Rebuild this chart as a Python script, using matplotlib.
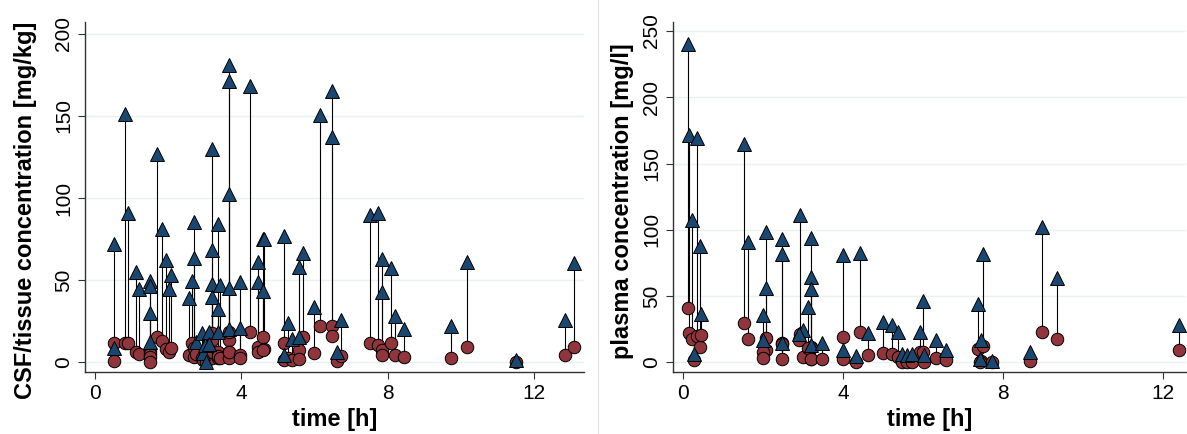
import matplotlib
matplotlib.use("Agg")
import matplotlib.pyplot as plt
from matplotlib.lines import Line2D

plt.rcParams['font.family'] = ['Liberation Sans', 'DejaVu Sans']

# CSF/tissue samples: time [h], triangle value, circle value [mg/kg]
tissue_t = [0.52, 0.52, 0.83, 0.91, 1.12, 1.19, 1.50, 1.50, 1.50, 1.50,
            1.70, 1.83, 1.95, 2.01, 2.07, 2.57, 2.64, 2.71, 2.71, 2.76,
            2.93, 2.95, 3.00, 3.02, 3.12, 3.12, 3.20, 3.20, 3.20, 3.20,
            3.35, 3.35, 3.35, 3.41, 3.67, 3.67, 3.67, 3.67, 3.66, 3.96,
            3.96, 4.24, 4.46, 4.46, 4.58, 4.62, 4.58, 5.16, 5.26, 5.16,
            5.38, 5.57, 5.57, 5.69, 5.98, 6.16, 6.48, 6.48, 6.60, 6.72,
            7.50, 7.72, 7.85, 7.85, 8.08, 8.20, 8.43, 9.73, 10.17, 11.50,
            12.85, 13.10]
tissue_upper = [72, 9, 151, 91, 55, 44.5, 49.5, 46.7, 30, 12.5,
                127, 81, 62, 44.5, 53, 39, 49.5, 85.6, 63.5, 12.5,
                17.7, 5.5, 10.5, 0.4, 18.3, 11, 129.7, 68.4, 47.5, 39.6,
                84.2, 32.3, 18.6, 47, 181, 171.3, 102.5, 45, 20, 49,
                20.7, 168, 61, 49, 75, 75, 43.4, 77, 23.7, 4.6,
                14, 58, 15.6, 66.8, 33.5, 150.6, 165.4, 137.4, 6, 25.8,
                90, 90.7, 62.7, 43, 57.6, 28.4, 20, 22.3, 61.3, 1.4,
                25.8, 60.3]
tissue_lower = [12, 1, 12, 11.5, 6.5, 5, 6.9, 4.9, 3, 0.5,
                15.6, 13, 8, 6.5, 9, 4.4, 11.5, 9, 3.4, 5,
                2.4, 1.2, 4.4, 0.3, 13.6, 6.5, 2.4, 18, 6.5, 13.6,
                6.5, 2.4, 4, 2.4, 13.6, 6, 18.7, 2.4, 6.5, 4.4,
                2.4, 18.7, 9.5, 6.5, 15.6, 8, 7.3, 11.5, 2.6, 1.6,
                1.2, 7.5, 2, 15.6, 5.5, 22, 22, 16, 1, 3.8,
                11.5, 10.5, 7.5, 4.4, 12, 4.4, 3, 2.4, 9.5, 0,
                4.4, 9.1]

# Plasma samples: time [h], triangle value, circle value [mg/l]
plasma_t = [0.11, 0.15, 0.23, 0.35, 0.42, 0.44, 0.26, 1.52, 1.61, 2.08,
            2.08, 2.00, 2.00, 2.47, 2.47, 2.47, 2.92, 3.00, 2.90, 3.20,
            3.20, 3.20, 3.12, 3.20, 3.46, 4.00, 4.00, 4.32, 4.43, 4.63,
            5.00, 5.22, 5.36, 5.46, 5.60, 5.72, 5.93, 6.00, 6.01, 6.33,
            6.58, 7.36, 7.50, 7.45, 7.42, 7.71, 8.68, 8.97, 9.35, 12.40]
plasma_upper = [240, 171.5, 107.4, 169, 87.7, 36.4, 6.3, 164.7, 90.5, 98.5,
                56.3, 35.7, 16.8, 93, 81.7, 14.3, 111.1, 24.4, 21.4, 93.5,
                64, 55, 41.5, 13, 14.3, 81, 9.3, 4.5, 82.7, 21.9,
                30.4, 28, 23, 6.3, 5.5, 6.5, 23, 46, 5.5, 16.8,
                9.3, 43.7, 81.7, 16.8, 2.5, 1.0, 7.8, 102.3, 63.8, 28.1]
plasma_lower = [40.7, 21.9, 17.3, 19.8, 11.8, 20.5, 1.7, 29.9, 17.3, 18,
                9.3, 8, 3, 14.3, 13.5, 2.3, 21.4, 3.8, 17, 11.8,
                10.6, 2.3, 10.6, 2.3, 2.3, 19.3, 2.3, 0.5, 22.6, 5.5,
                6.8, 6.0, 4.2, 0.5, 0.5, 0.5, 8, 8, 0.5, 3,
                1.5, 9.8, 12, 1, 0.5, 0.3, 1.3, 23.1, 17.3, 9.3]

NAVY = '#1a476f'
MAROON = '#90353b'
GRID = '#eaf1f3'


def draw_panel(ax, t, upper, lower, ylabel, yticks, xticks, xlim, ylim,
               ylabel_pos):
    ax.vlines(t, lower, upper, colors='black', linewidth=0.8, zorder=2)
    ax.plot(t, lower, linestyle='none', marker='o', markersize=9,
            markerfacecolor=MAROON, markeredgecolor='black',
            markeredgewidth=0.7, zorder=3)
    ax.plot(t, upper, linestyle='none', marker='^', markersize=10,
            markerfacecolor=NAVY, markeredgecolor='black',
            markeredgewidth=0.7, zorder=4)
    ax.set_xlim(*xlim)
    ax.set_ylim(*ylim)
    ax.set_xticks(xticks)
    ax.set_yticks(yticks)
    for y in yticks:
        ax.axhline(y, color=GRID, linewidth=1.0, zorder=1)
    for side in ('top', 'right'):
        ax.spines[side].set_visible(False)
    for side in ('left', 'bottom'):
        ax.spines[side].set_color('#333333')
        ax.spines[side].set_linewidth(1.0)
    ax.tick_params(axis='both', direction='out', length=5, width=0.8,
                   colors='#333333', labelcolor='black', labelsize=15)
    ax.tick_params(axis='y', labelrotation=90)
    for lab in ax.get_yticklabels():
        lab.set_verticalalignment('center')
    ax.set_xlabel('time [h]', fontsize=17, fontweight='bold', labelpad=4)
    ax.set_ylabel(ylabel, fontsize=17, fontweight='bold')
    ax.yaxis.set_label_coords(*ylabel_pos)
    ax.yaxis.label.set_verticalalignment('center')


fig = plt.figure(figsize=(11.87, 4.34), dpi=100)
W, H = 1187.0, 434.0

ax1 = fig.add_axes([85 / W, 1 - 371.7 / H, (584 - 85) / W, (371.7 - 22) / H])
draw_panel(ax1, tissue_t, tissue_upper, tissue_lower,
           'CSF/tissue concentration [mg/kg]',
           [0, 50, 100, 150, 200], [0, 4, 8, 12],
           (-0.273, 13.36), (-5.7, 207.2), (-0.12, 0.462))

ax2 = fig.add_axes([673.3 / W, 1 - 371.7 / H, (1186 - 673.3) / W, (371.7 - 22) / H])
draw_panel(ax2, plasma_t, plasma_upper, plasma_lower,
           'plasma concentration [mg/l]',
           [0, 50, 100, 150, 200, 250], [0, 4, 8, 12],
           (-0.25, 12.57), (-7.1, 256.8), (-0.1, 0.488))

fig.add_artist(Line2D([598 / W, 598 / W], [0, 1], color='#e4e4e4',
                      linewidth=0.8, transform=fig.transFigure))

fig.savefig('out.png', dpi=100)
